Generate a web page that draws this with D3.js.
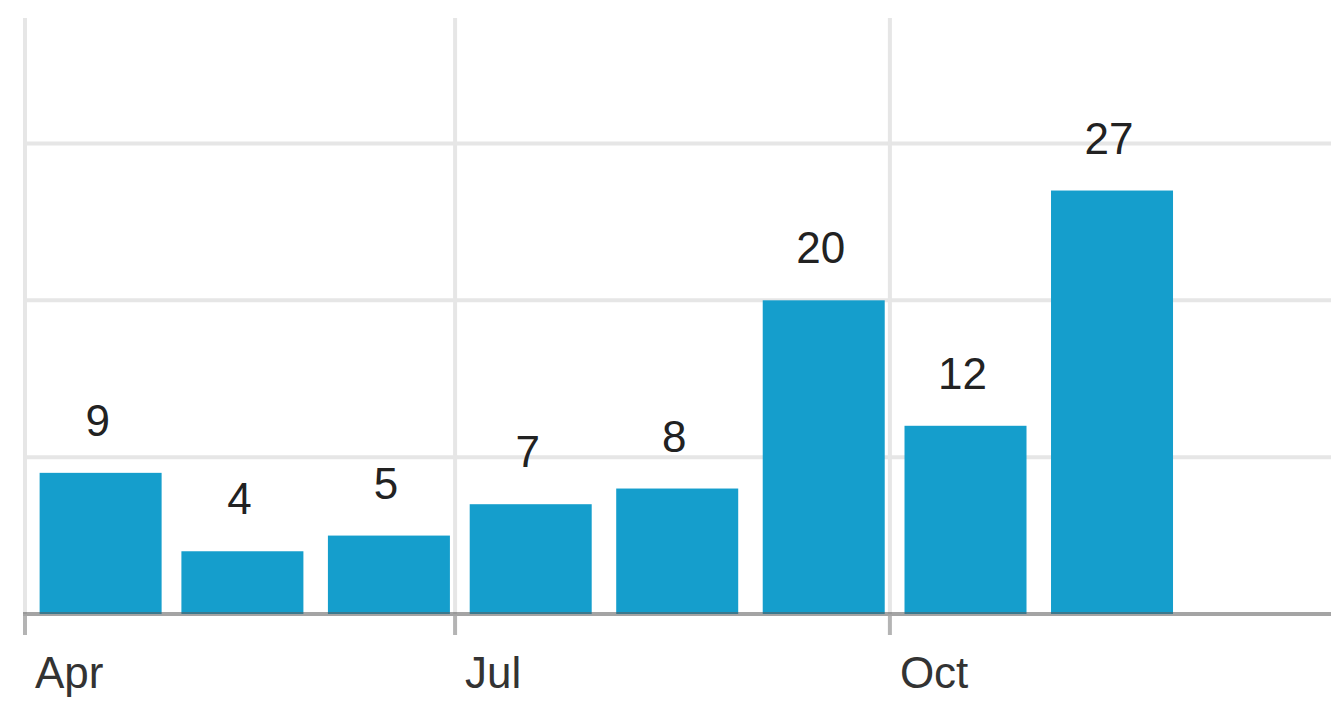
<!DOCTYPE html>
<html>
<head>
<meta charset="utf-8">
<script src="https://cdn.jsdelivr.net/npm/d3@7"></script>
<style>
  body { margin: 0; background: #fff; }
  text { font-family: "Liberation Sans", Arial, sans-serif; }
</style>
</head>
<body>
<div class="chart"></div>
<script>
// monthly counts
const months = ["2023-04", "2023-05", "2023-06", "2023-07", "2023-08", "2023-09", "2023-10", "2023-11"];
const counts = [9, 4, 5, 7, 8, 20, 12, 27];
const yGrid = [10, 20, 30];

const W = 1331, H = 708;
const plotTop = 18, plotBottom = 614, plotLeft = 25;
const barWidth = 122;

const parse = d3.timeParse("%Y-%m");
const data = months.map((m, i) => ({ date: parse(m), value: counts[i] }));

const svg = d3.select(".chart").append("svg")
    .attr("width", W)
    .attr("height", H);

const x = d3.scaleTime()
    .domain([new Date(2023, 3, 1), new Date(2024, 0, 2, 8)])
    .range([plotLeft, W]);

const y = d3.scaleLinear()
    .domain([0, 38])
    .range([plotBottom, plotTop]);

// quarterly ticks: Apr, Jul, Oct
const xTicks = d3.timeMonth.every(3).range(new Date(2023, 3, 1), new Date(2024, 0, 1));

// horizontal gridlines
svg.append("g")
    .selectAll("line")
    .data(yGrid)
    .join("line")
    .attr("x1", plotLeft - 2)
    .attr("x2", W)
    .attr("y1", d => y(d))
    .attr("y2", d => y(d))
    .attr("stroke", "#e6e6e6")
    .attr("stroke-width", 4);

// vertical gridlines
svg.append("g")
    .selectAll("line")
    .data(xTicks)
    .join("line")
    .attr("x1", d => x(d))
    .attr("x2", d => x(d))
    .attr("y1", plotTop)
    .attr("y2", plotBottom)
    .attr("stroke", "#e6e6e6")
    .attr("stroke-width", 4);

// bars, centred on the 17th of each month
const mid = d => d3.timeDay.offset(d, 16);
svg.append("g")
    .selectAll("rect")
    .data(data)
    .join("rect")
    .attr("x", d => x(mid(d.date)) - barWidth / 2)
    .attr("y", d => y(d.value))
    .attr("width", barWidth)
    .attr("height", d => y(0) - y(d.value))
    .attr("fill", "#159ecc");

// value labels
svg.append("g")
    .selectAll("text")
    .data(data)
    .join("text")
    .attr("x", d => x(mid(d.date)) - 3)
    .attr("y", d => y(d.value) - 37)
    .attr("text-anchor", "middle")
    .attr("font-size", 44)
    .attr("fill", "#222")
    .text(d => d.value);

// x axis line, drawn over the bars
svg.append("line")
    .attr("x1", plotLeft - 2)
    .attr("x2", W)
    .attr("y1", y(0))
    .attr("y2", y(0))
    .attr("stroke", "rgb(90,90,90)")
    .attr("stroke-opacity", 0.55)
    .attr("stroke-width", 4);

// ticks and month labels
const ticks = svg.append("g");
ticks.selectAll("line")
    .data(xTicks)
    .join("line")
    .attr("x1", d => x(d))
    .attr("x2", d => x(d))
    .attr("y1", y(0) + 2)
    .attr("y2", y(0) + 21)
    .attr("stroke", "#b4b4b4")
    .attr("stroke-width", 4);

ticks.selectAll("text")
    .data(xTicks)
    .join("text")
    .attr("x", d => x(d) + 10)
    .attr("y", 688)
    .attr("font-size", 44)
    .attr("fill", "#333")
    .text(d3.timeFormat("%b"));
</script>
</body>
</html>
